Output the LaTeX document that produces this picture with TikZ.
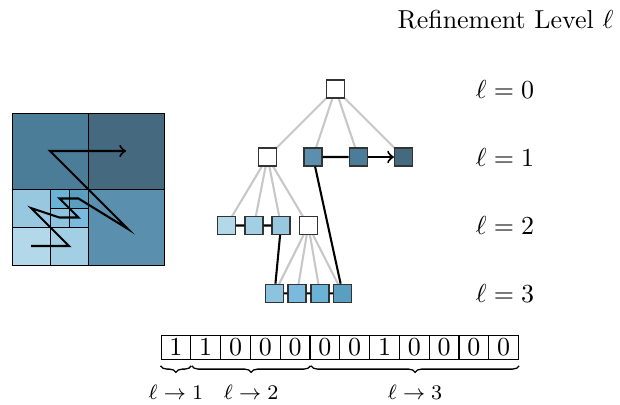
\documentclass[tikz,border=0pt]{standalone}
\usepackage{amsmath,amssymb}
\usepackage{xcolor}
\usepackage{tikz}
\usetikzlibrary{arrows}
\usetikzlibrary{calc}
\usetikzlibrary{backgrounds}
\usetikzlibrary{decorations.pathreplacing}
\definecolor{ctwoa}{HTML}{B3D8EA}
\definecolor{ctwob}{HTML}{A3CFE5}
\definecolor{ctwoc}{HTML}{98C8E0}
\definecolor{cthreea}{HTML}{8CC4E0}
\definecolor{cthreeb}{HTML}{79BADE}
\definecolor{cthreec}{HTML}{6AB2D6}
\definecolor{cthreed}{HTML}{5A9EC0}
\definecolor{conea}{HTML}{5A8FAD}
\definecolor{coneb}{HTML}{4B7D99}
\definecolor{conec}{HTML}{456A80}
\tikzstyle{tc} = [rectangle, draw=black!80, inner sep=0pt, minimum size=6.9pt, line width=0.5pt, fill=white]
\tikzstyle{te} = [draw=black!22, line width=0.8pt]
\tikzstyle{sfc} = [line width=0.8pt]
\tikzstyle{gc} = [line width=0.3pt]
\tikzstyle{bit} = [rectangle, draw, inner sep=0pt, minimum width=11.45pt, minimum height=9.1pt, line width=0.4pt]
\tikzstyle{lbrace} = [decorate, decoration={brace, mirror, amplitude=2.5pt}, line width=0.5pt]

\begin{document}
\begin{tikzpicture}[x=0.385pt,y=-0.385pt]
				\useasboundingbox (0,0) rectangle (620,404);
				\node (title) at (505.5,20) {Refinement Level $\ell$};
				\node (l0) at (505,89) {$\ell=0$};
				\node (l1) at (505,157) {$\ell=1$};
				\node (l2) at (505,225.5) {$\ell=2$};
				\node (l3) at (505,293.5) {$\ell=3$};
				%%%%%%%%%%%%%%%%%%%%%%%%%%%%%%%%%%
				% quadtree grid
				\filldraw[gc, fill=coneb] (12,113) rectangle (88,189);
				\filldraw[gc, fill=conec] (88,113) rectangle (164,189);
				\filldraw[gc, fill=conea] (88,189) rectangle (164,265);
				\filldraw[gc, fill=ctwoa] (12,227) rectangle (50,265);
				\filldraw[gc, fill=ctwob] (50,227) rectangle (88,265);
				\filldraw[gc, fill=ctwoc] (12,189) rectangle (50,227);
				\filldraw[gc, fill=cthreea] (50,208) rectangle (69,227);
				\filldraw[gc, fill=cthreeb] (69,208) rectangle (88,227);
				\filldraw[gc, fill=cthreec] (50,189) rectangle (69,208);
				\filldraw[gc, fill=cthreed] (69,189) rectangle (88,208);
				\coordinate (z1) at (31,246);
				\coordinate (z2) at (69,246);
				\coordinate (z3) at (31,208);
				\coordinate (z4) at (59.5,217.5);
				\coordinate (z5) at (78.5,217.5);
				\coordinate (z6) at (59.5,198.5);
				\coordinate (z7) at (78.5,198.5);
				\coordinate (z8) at (128,229);
				\coordinate (z9) at (50,151);
				\coordinate (z10) at (126,151);
				\draw[sfc, ->] (z1) -- (z2) -- (z3) -- (z4) -- (z5) -- (z6) -- (z7) -- (z8) -- (z9) -- (z10);
				%%%%%%%%%%%%%%%%%%%%%%%%%%%%%%%%%%
				% tree
				\node[tc] (n0) at (335.5,89) {};
				\node[tc] (n1a) at (267.5,157) {};
				\node[tc, fill=conea] (n1b) at (313,157) {};
				\node[tc, fill=coneb] (n1c) at (358.3,157) {};
				\node[tc, fill=conec] (n1d) at (403.5,157) {};
				\node[tc, fill=ctwoa] (n2a) at (226.5,225.5) {};
				\node[tc, fill=ctwob] (n2b) at (254,225.5) {};
				\node[tc, fill=ctwoc] (n2c) at (281,225.5) {};
				\node[tc] (n2d) at (308.3,225.5) {};
				\node[tc, fill=cthreea] (n3a) at (274.5,293.3) {};
				\node[tc, fill=cthreeb] (n3b) at (297,293.3) {};
				\node[tc, fill=cthreec] (n3c) at (320,293.3) {};
				\node[tc, fill=cthreed] (n3d) at (342.7,293.3) {};
				\begin{scope}[on background layer]
				\draw[te] (n0.center) -- (n1a.center);
				\draw[te] (n0.center) -- (n1b.center);
				\draw[te] (n0.center) -- (n1c.center);
				\draw[te] (n0.center) -- (n1d.center);
				\draw[te] (n1a.center) -- (n2a.center);
				\draw[te] (n1a.center) -- (n2b.center);
				\draw[te] (n1a.center) -- (n2c.center);
				\draw[te] (n1a.center) -- (n2d.center);
				\draw[te] (n2d.center) -- (n3a.center);
				\draw[te] (n2d.center) -- (n3b.center);
				\draw[te] (n2d.center) -- (n3c.center);
				\draw[te] (n2d.center) -- (n3d.center);
				\end{scope}
				\draw[sfc] (n2a) -- (n2b) -- (n2c) -- (n3a) -- (n3b) -- (n3c) -- (n3d) -- (n1b) -- (n1c);
				\draw[sfc, ->] (n1c) -- (n1d);
				%%%%%%%%%%%%%%%%%%%%%%%%%%%%%%%%%%
				% refinement bits
				\node[bit] (b1) at (175.9,347.5) {$1$};
				\node[bit] (b2) at (205.7,347.5) {$1$};
				\node[bit] (b3) at (235.5,347.5) {$0$};
				\node[bit] (b4) at (265.3,347.5) {$0$};
				\node[bit] (b5) at (295.1,347.5) {$0$};
				\node[bit] (b6) at (324.9,347.5) {$0$};
				\node[bit] (b7) at (354.7,347.5) {$0$};
				\node[bit] (b8) at (384.5,347.5) {$1$};
				\node[bit] (b9) at (414.3,347.5) {$0$};
				\node[bit] (b10) at (444.1,347.5) {$0$};
				\node[bit] (b11) at (473.9,347.5) {$0$};
				\node[bit] (b12) at (503.7,347.5) {$0$};
				\draw[lbrace] ($(b1.south west)+(0,6)$) -- ($(b1.south east)+(0,6)$) node[midway, below=4pt] (r1) {\footnotesize $\ell\to1$};
				\draw[lbrace] ($(b2.south west)+(1.5,6)$) -- ($(b5.south east)+(0,6)$) node[midway, below=4pt] (r2) {\footnotesize $\ell\to2$};
				\draw[lbrace] ($(b6.south west)+(1.5,6)$) -- ($(b12.south east)+(0,6)$) node[midway, below=4pt] (r3) {\footnotesize $\ell\to3$};
			\end{tikzpicture}
\end{document}
